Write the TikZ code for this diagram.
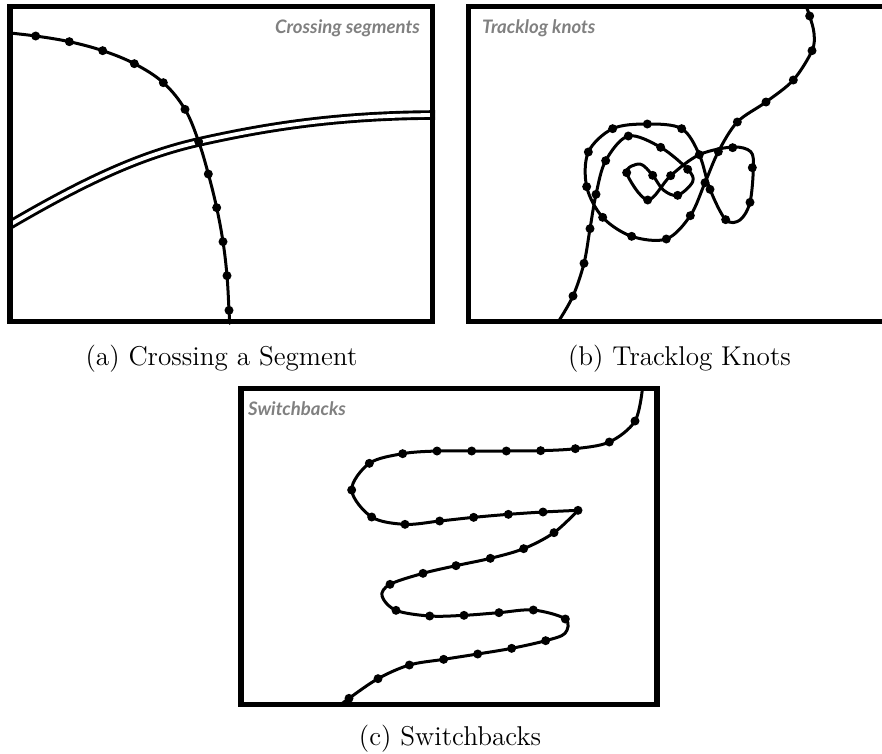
\documentclass[tikz,border=0pt]{standalone}
\usepackage{fontspec}
\newfontfamily\tagfont{Lato}
\newfontfamily\capfont{lmroman12-regular.otf}
\begin{document}
\begin{tikzpicture}[x=1pt,y=-1pt,
  frameline/.style={line width=5.2pt,line join=miter,black},
  trk/.style={line width=3pt,black,line cap=round,line join=round},
  tagtext/.style={font=\tagfont\bfseries\itshape\fontsize{18.6}{20}\selectfont,text=black!50,inner sep=0pt},
  captext/.style={font=\capfont\fontsize{27.2}{30}\selectfont,inner sep=0pt,anchor=base}]
\useasboundingbox (0,0) rectangle (882,753);
\def\knots#1{\foreach \p in {#1}{\fill[black] \p circle[radius=13.5];}}
\def\roadpath{(20,680) .. controls (250,545) and (420,465) .. (600,425) .. controls (780,385) and (1000,345) .. (1320,345)}
%% (a)
\begin{scope}
\clip (7.5,4) rectangle (435,324);
\begin{scope}[scale=1/3]
\draw[line width=9.6pt,black] \roadpath;
\draw[line width=3.8pt,white] \roadpath;
\draw[trk] plot[smooth,tension=0.6] coordinates {(20,98) (107,108) (208,125) (308,152) (403,191) (490,248) (555,328) (596,425) (625,522) (650,623) (669,725) (681,827) (687,931) (689,970)};
\knots{(107,108),(208,125),(308,152),(403,191),(490,248),(555,328),(596,425),(625,522),(650,623),(669,725),(681,827),(687,931)}
\end{scope}
\end{scope}
\draw[frameline] (10,6.7) rectangle (432.5,321.5);
\node[tagtext,anchor=base east] (taga) at (420,33) {Crossing segments};
\node[captext] (capa) at (221.5,365) {(a) Crossing a Segment};
%% (b)
\begin{scope}
\clip (466,4) rectangle (882,324);
\begin{scope}[shift={(460,0)},scale=1/3]
\draw[trk] plot[smooth,tension=0.55] coordinates {(1035,10) (1049,48) (1062,100) (1056,152) (1000,240) (918,306) (832,366) (775,455) (735,548) (691,647) (619,717) (515,709) (428,652) (380,560) (385,456) (458,386) (562,372) (665,386) (718,464) (750,568) (797,659) (840,660) (870,607) (880,503) (872,455) (818,441) (718,464) (632,527) (563,600) (500,518) (540,492) (578,526) (610,570) (653,586) (698,545) (683,508) (602,442) (505,408) (437,482) (408,583) (390,686) (372,790) (339,888) (295,965)};
\knots{(1049,48),(1056,152),(1000,240),(918,306),(832,366),(775,455),(735,548),(691,647),(619,717),(515,709),(428,652),(380,560),(385,456),(458,386),(562,372),(665,386),(718,464),(750,568),(797,659),(870,607),(877,503),(818,443),(632,527),(563,600),(500,518),(578,526),(653,586),(683,508),(602,442),(505,408),(437,482),(408,583),(390,686),(372,790),(339,888)}
\end{scope}
\end{scope}
\draw[frameline] (882,6.7) -- (468.6,6.7) -- (468.6,321.5) -- (882,321.5);
\node[tagtext,anchor=base west] (tagb) at (482,33) {Tracklog knots};
\node[captext] (capb) at (679.5,365) {(b) Tracklog Knots};
%% (c)
\begin{scope}
\clip (238,386) rectangle (660,707);
\begin{scope}[shift={(320,380)},scale=1/3]
\draw[trk] plot[smooth,tension=0.55] coordinates {(968,20) (945,123) (868,186) (766,206) (662,212) (559,213) (455,213) (351,213) (248,221) (148,250) (95,330) (155,411) (255,433) (359,423) (461,412) (565,403) (669,396) (774,391)};
\draw[trk] plot[smooth,tension=0.55] coordinates {(774,391) (702,458) (611,506) (511,535) (408,557) (309,580) (210,613) (186,648) (228,691) (329,708) (432,706) (537,698) (640,690) (736,717) (735,760) (677,782) (575,805) (473,822) (371,838) (268,855) (174,896) (87,955) (65,972)};
\knots{(945,123),(868,186),(766,206),(662,212),(559,213),(455,213),(351,213),(248,221),(148,250),(95,330),(155,411),(255,433),(359,423),(461,412),(565,403),(669,396),(774,391),(702,458),(611,506),(511,535),(408,557),(309,580),(210,613),(228,691),(329,708),(432,706),(537,698),(640,690),(736,717),(677,782),(575,805),(473,822),(371,838),(268,855),(174,896),(87,955)}
\end{scope}
\end{scope}
\draw[frameline] (241,388.7) rectangle (657,704.5);
\node[tagtext,anchor=base west] (tagc) at (248,415) {Switchbacks};
\node[captext] (capc) at (450,745) {(c) Switchbacks};
\end{tikzpicture}
\end{document}
